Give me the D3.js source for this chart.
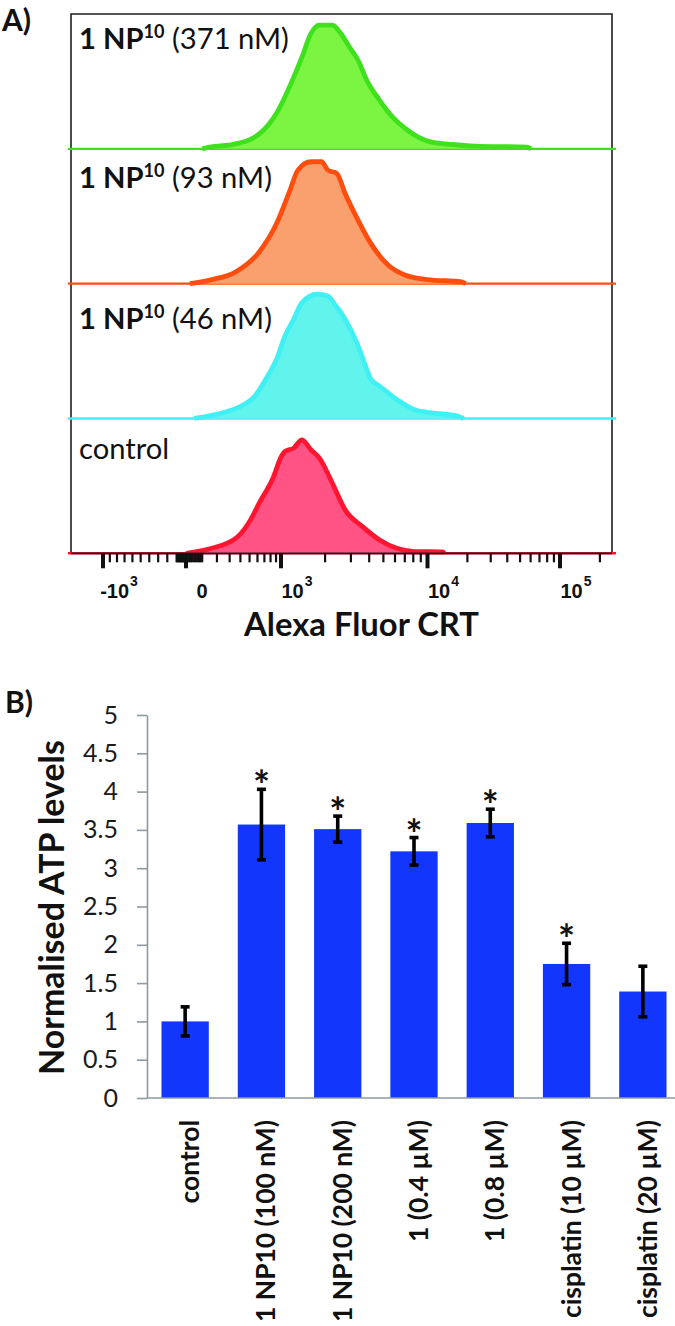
<!DOCTYPE html>
<html><head><meta charset="utf-8">
<script src="https://cdn.jsdelivr.net/npm/d3@7"></script>
<style>body{margin:0;background:#fff} svg{display:block}</style>
</head><body>
<svg id="chart" width="675" height="1326" xmlns="http://www.w3.org/2000/svg"></svg>
<script>
// ---------------- Panel A data (intensity, relative count) ----------------
const histNames = ["371 nM", "93 nM", "46 nM", "control"];
const hist371 = [[100,0],[148,1.3],[331,3.3],[624,11],[904,26],[1220,53],[1390,68],[1600,85.5],[1830,91.7],[2240,91.7],[2560,85.5],[2930,75.5],[3360,65.6],[3850,50.8],[4710,36],[5780,23.5],[7080,14.9],[8650,8.7],[10700,4.9],[15600,3.2],[22700,2],[56000,1.3],[60300,0]];
const hist93 = [[24,0],[163,3],[352,8.6],[624,23.5],[910,44.6],[1140,68],[1305,84.2],[1600,90.4],[1890,90.4],[2090,84.2],[2400,81.8],[2740,66.9],[3360,47],[4110,29.7],[5400,13.6],[7070,6.2],[9900,3],[18100,1.3],[19400,0]];
const hist46 = [[50,0],[193,3],[373,8],[566,16.6],[721,29],[910,43.9],[1065,61.2],[1220,73.6],[1390,86],[1770,92.2],[2090,90.9],[2320,84.8],[2740,73.6],[3360,53.8],[3850,36.4],[4110,29],[4710,24],[6170,14.1],[8090,6.7],[10700,4.2],[16800,1.7],[18750,0]];
const histControl = [[0,0],[163,3.7],[373,12.3],[512,24.8],[624,37.2],[830,54.5],[1020,73],[1065,75.5],[1220,78],[1390,84.2],[1600,76.8],[1830,70.6],[2240,52],[2740,32.2],[3600,19.8],[4710,9.9],[6170,3.7],[8090,1.3],[13000,1],[13400,0]];
const histColors = [["#3fe01c","#7cf542"],["#ff4d0d","#f9a06e"],["#3ff0f4","#60f4ec"],["#ff1530","#ff5285"]];
const axisAMajor = [-1000, 0, 1000, 10000, 100000];
const axisAMajorLabels = [["-10","3"],["0",""],["10","3"],["10","4"],["10","5"]];
const axisAMinor = [-900,-800,-700,-600,-500,-400,-300,-200,-100,-90,-80,-70,-60,-50,-40,-30,-20,-10,10,20,30,40,50,60,70,80,90,100,200,300,400,500,600,700,800,900,2000,3000,4000,5000,6000,7000,8000,9000,20000,30000,40000,50000,60000,70000,80000,90000,200000];

// ---------------- Panel B data ----------------
const categories = ["control","1 NP10 (100 nM)","1 NP10 (200 nM)","1 (0.4 µM)","1 (0.8 µM)","cisplatin (10 µM)","cisplatin (20 µM)"];
const atpValues = [1.00, 3.57, 3.51, 3.22, 3.59, 1.75, 1.39];
const atpErrors = [0.19, 0.46, 0.17, 0.18, 0.18, 0.27, 0.33];
const significant = [false, true, true, true, true, true, false];
const yTicks = [0,0.5,1,1.5,2,2.5,3,3.5,4,4.5,5];

const svg = d3.select("#chart");
const LATO = "Lato, 'Open Sans', sans-serif";

function fitSize(text, family, weight, target) {
  const t = svg.append("text").attr("font-family", family).attr("font-weight", weight)
    .attr("font-size", 20).text(text);
  const L = t.node().getComputedTextLength();
  t.remove();
  return 20 * target / L;
}

// ================= PANEL A =================
const A = {left: 71, right: 612, top: 14, bottom: 553.3};
const xNeg = d3.scaleLinear().domain([Math.asinh(-1), 0]).range([103, 186]);
const xLow = d3.scaleLinear().domain([0, Math.asinh(1000/300)]).range([186, 281]);
const xDec3 = d3.scaleLog().domain([1e3, 1e4]).range([281, 427.5]);
const xDec4 = d3.scaleLog().domain([1e4, 1e5]).range([427.5, 560]);
function xA(v) {
  if (v < 0) return xNeg(Math.asinh(v/1000));
  if (v <= 1000) return xLow(Math.asinh(v/300));
  if (v <= 1e4) return xDec3(v);
  return xDec4(v);
}
const panelH = (A.bottom - A.top) / 4;
const hists = [hist371, hist93, hist46, histControl];

const gA = svg.append("g");
gA.append("path").attr("d", `M${A.left},${A.bottom} V${A.top} H${A.right} V${A.bottom}`)
  .attr("fill","none").attr("stroke","#1e1e1e").attr("stroke-width",1.6);

hists.forEach((h, i) => {
  const base = A.top + panelH*(i+1);
  const y = d3.scaleLinear().domain([0,100]).range([base, base - panelH]);
  const [stroke, fill] = histColors[i];
  gA.append("line").attr("x1", A.left-3).attr("x2", A.right+4).attr("y1", base).attr("y2", base)
    .attr("stroke", stroke).attr("stroke-width", 2.4);
  const area = d3.area().x(d => xA(d[0])).y0(base).y1(d => y(d[1])).curve(d3.curveMonotoneX);
  const line = d3.line().x(d => xA(d[0])).y(d => y(d[1])).curve(d3.curveMonotoneX);
  gA.append("path").datum(h).attr("d", area).attr("fill", fill);
  gA.append("path").datum(h).attr("d", line).attr("fill","none").attr("stroke", stroke)
    .attr("stroke-width", 4.8).attr("stroke-linejoin","round");
});

// bottom axis
gA.append("line").attr("x1", A.left).attr("x2", A.right).attr("y1", A.bottom).attr("y2", A.bottom)
  .attr("stroke","#1e1e1e").attr("stroke-width",1.8);
gA.selectAll(".mn").data(axisAMinor).join("line")
  .attr("x1", d => xA(d)).attr("x2", d => xA(d)).attr("y1", A.bottom).attr("y2", A.bottom+9)
  .attr("stroke","#111").attr("stroke-width",2.2);
gA.selectAll(".mj").data(axisAMajor).join("line")
  .attr("x1", d => xA(d)).attr("x2", d => xA(d)).attr("y1", A.bottom).attr("y2", A.bottom+15)
  .attr("stroke","#111").attr("stroke-width",4);
const tl = gA.selectAll(".tl").data(axisAMajor).join("text")
  .attr("x", d => xA(d) + 16).attr("y", 598).attr("text-anchor","middle")
  .attr("font-family","'Liberation Sans', Arial, sans-serif").attr("font-weight","bold")
  .attr("font-size", 20).attr("fill","#111");
tl.each(function(d, i) {
  const s = d3.select(this);
  const [b, e] = axisAMajorLabels[i];
  s.append("tspan").text(b);
  if (e) s.append("tspan").attr("font-size", 14).attr("dx", 1).attr("dy", -12).text(e);
});

const fsTitleA = fitSize("Alexa Fluor CRT", LATO, "bold", 235);
gA.append("text").attr("x", 361.5).attr("y", 636).attr("text-anchor","middle")
  .attr("font-family", LATO).attr("font-weight","bold").attr("font-size", fsTitleA)
  .attr("fill","#111").text("Alexa Fluor CRT");

// histogram labels
const probe = svg.append("text").attr("font-family", LATO).attr("font-size", 20);
probe.append("tspan").attr("font-weight","bold").text("1 NP");
probe.append("tspan").attr("font-weight","bold").attr("font-size", 12.4).text("10");
probe.append("tspan").text(" (371 nM)");
const Fl = 20 * 210 / probe.node().getComputedTextLength();
probe.remove();
const labelY = [49, 188, 329, 459];
histNames.forEach((n, i) => {
  const t = gA.append("text").attr("x", 79).attr("y", labelY[i]).attr("font-family", LATO)
    .attr("font-size", Fl).attr("fill","#111");
  if (n === "control") { t.text("control"); return; }
  t.append("tspan").attr("font-weight","bold").text("1 NP");
  t.append("tspan").attr("font-weight","bold").attr("font-size", Fl*0.62).attr("dy", -Fl*0.38).text("10");
  t.append("tspan").attr("dy", Fl*0.38).text(" (" + n + ")");
});

svg.append("text").attr("x", 2).attr("y", 31).attr("font-family", LATO).attr("font-weight","bold")
  .attr("font-size", 30).attr("fill","#111").text("A)");

// ================= PANEL B =================
const yB = d3.scaleLinear().domain([0,5]).range([1098, 715]);
const xB = d3.scaleBand().domain(categories).range([147, 681]).paddingInner(0.38).paddingOuter(0.19);
const gB = svg.append("g");
const axisGrey = "#8b9ba3";

const yAx = gB.append("g").attr("transform","translate(147,0)")
  .call(d3.axisLeft(yB).tickValues(yTicks).tickSize(10).tickSizeOuter(0).tickPadding(19).tickFormat(d3.format("")));
yAx.select(".domain").attr("stroke", axisGrey).attr("stroke-width", 1.6);
yAx.selectAll(".tick line").attr("stroke", axisGrey).attr("stroke-width", 1.6);
yAx.selectAll(".tick text").attr("font-family", LATO).attr("font-size", 25).attr("fill","#1a1a1a");

gB.selectAll(".bar").data(categories).join("rect")
  .attr("x", d => xB(d)).attr("width", xB.bandwidth())
  .attr("y", (d,i) => yB(atpValues[i])).attr("height", (d,i) => yB(0) - yB(atpValues[i]))
  .attr("fill", "#1336fc");

gB.append("line").attr("x1", 147).attr("x2", 681).attr("y1", yB(0)).attr("y2", yB(0))
  .attr("stroke", axisGrey).attr("stroke-width", 1.6);

categories.forEach((c, i) => {
  const cx = xB(c) + xB.bandwidth()/2;
  const hi = yB(atpValues[i] + atpErrors[i]), lo = yB(atpValues[i] - atpErrors[i]);
  gB.append("line").attr("x1", cx).attr("x2", cx).attr("y1", hi).attr("y2", lo)
    .attr("stroke","#000").attr("stroke-width", 3.6);
  [hi, lo].forEach(yy => gB.append("line").attr("x1", cx-4.5).attr("x2", cx+4.5)
    .attr("y1", yy).attr("y2", yy).attr("stroke","#000").attr("stroke-width", 3.6));
  if (significant[i]) {
    gB.append("text").attr("x", cx).attr("y", hi + 11).attr("text-anchor","middle")
      .attr("font-family", LATO).attr("font-weight","bold").attr("font-size", 40)
      .attr("fill","#111").text("*");
  }
});

const fsCat = fitSize("1 NP10 (100 nM)", LATO, "bold", 202);
categories.forEach(c => {
  gB.append("text").attr("transform", `translate(${xB(c) + xB.bandwidth()/2 + 4},1120) rotate(-90)`)
    .attr("text-anchor","end").attr("dominant-baseline","central")
    .attr("font-family", LATO).attr("font-weight","bold").attr("font-size", fsCat)
    .attr("fill","#111").text(c);
});

const fsY = fitSize("Normalised ATP levels", LATO, "bold", 335);
gB.append("text").attr("transform","translate(50,907.5) rotate(-90)")
  .attr("text-anchor","middle").attr("dominant-baseline","central")
  .attr("font-family", LATO).attr("font-weight","bold").attr("font-size", fsY)
  .attr("fill","#111").text("Normalised ATP levels");

svg.append("text").attr("x", 5).attr("y", 713).attr("font-family", LATO).attr("font-weight","bold")
  .attr("font-size", 30).attr("fill","#111").text("B)");
</script>
</body></html>
